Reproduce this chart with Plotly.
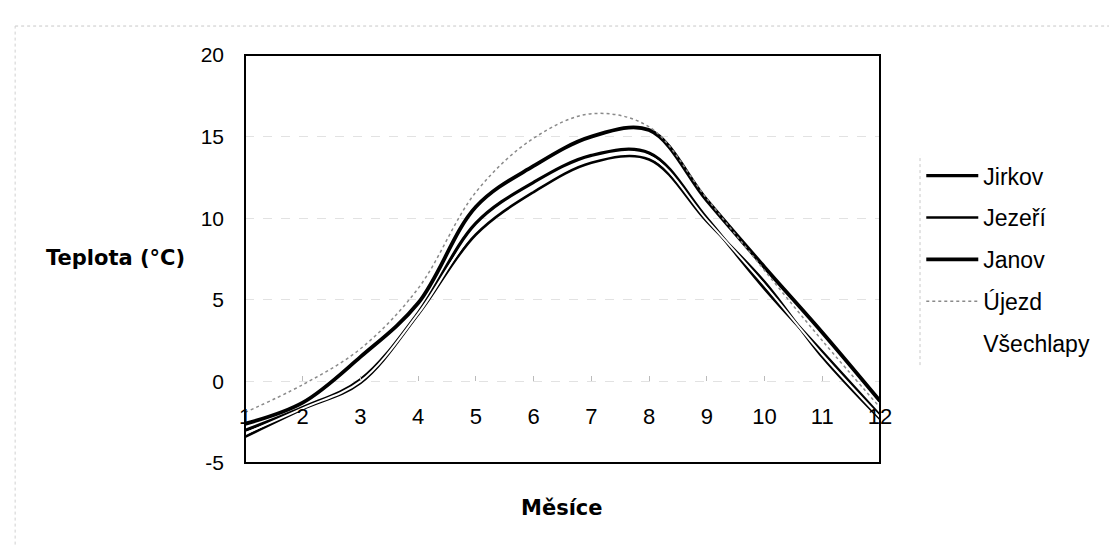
import plotly.graph_objects as go

months = [1, 2, 3, 4, 5, 6, 7, 8, 9, 10, 11, 12]
month_labels = ["1", "2", "3", "4", "5", "6", "7", "8", "9", "10", "11", "12"]
y_ticks = [-5, 0, 5, 10, 15, 20]
y_tick_labels = ["-5", "0", "5", "10", "15", "20"]

jirkov = [-3.0, -1.6, 0.1, 4.2, 9.7, 12.2, 13.85, 14.0, 10.0, 5.7, 1.8, -2.1]
jezeri = [-3.4, -1.7, -0.1, 4.1, 9.0, 11.6, 13.4, 13.6, 9.8, 6.1, 1.5, -2.3]
janov = [-2.6, -1.3, 1.5, 4.8, 10.7, 13.2, 15.0, 15.4, 11.1, 7.0, 3.0, -1.2]
ujezd = [-1.9, -0.2, 2.0, 5.7, 11.6, 14.9, 16.4, 15.6, 11.2, 6.8, 2.5, -1.6]
vsechlapy = [-3.2, -1.65, 0.0, 4.15, 9.3, 11.9, 13.6, 13.8, 9.9, 5.9, 1.65, -2.2]

series = [
    ("Jirkov", jirkov, dict(color="black", width=3.2)),
    ("Jezeří", jezeri, dict(color="black", width=2.6)),
    ("Janov", janov, dict(color="black", width=3.8)),
    ("Újezd", ujezd, dict(color="#8a8a8a", width=1.5, dash="dot")),
    ("Všechlapy", vsechlapy, dict(color="white", width=2)),
]

FONT = "Liberation Sans, Arial, sans-serif"
BOLD = "DejaVu Sans, Liberation Sans, sans-serif"

fig = go.Figure()
for i, (name, vals, line) in enumerate(series):
    fig.add_trace(go.Scatter(
        x=months, y=vals, name=name, mode="lines",
        line=dict(shape="spline", smoothing=1.0, **line),
        legendgroup=f"g{i}",
    ))

fig.update_layout(
    width=1109, height=549,
    margin=dict(l=245, r=229, t=55, b=86),
    paper_bgcolor="white", plot_bgcolor="white",
    font=dict(family=FONT, color="black"),
    showlegend=True,
    legend=dict(
        x=1.065, xanchor="left", y=0.757, yanchor="top",
        font=dict(family=FONT, size=23, color="black"),
        traceorder="grouped", tracegroupgap=9,
        bgcolor="rgba(0,0,0,0)", itemwidth=52,
    ),
    xaxis=dict(
        range=[1, 12], tickvals=months, ticktext=month_labels,
        anchor="free", position=0.2,
        showline=False, showgrid=False, zeroline=False,
        ticks="inside", ticklen=5, tickcolor="#bbbbbb",
        tickfont=dict(family=FONT, size=22, color="black"),
        ticklabelstandoff=20,
    ),
    yaxis=dict(
        range=[-5, 20], tickvals=y_ticks, ticktext=y_tick_labels,
        showline=False, zeroline=False,
        showgrid=True, gridcolor="#e2e2e2", griddash="dash", gridwidth=1,
        ticks="", tickfont=dict(family=FONT, size=21, color="black"),
        ticklabelstandoff=20,
    ),
)

# plot frame
fig.add_shape(type="rect", xref="paper", yref="paper", x0=0, x1=1, y0=0, y1=1,
              line=dict(color="black", width=2), layer="above")

# faint outer chart border (scan)
fig.add_shape(type="line", xref="paper", yref="paper", x0=-0.362, x1=1.8, y0=1.071, y1=1.071,
              line=dict(color="#c8c8c8", width=1, dash="dot"))
fig.add_shape(type="line", xref="paper", yref="paper", x0=-0.362, x1=-0.362, y0=-0.2, y1=1.071,
              line=dict(color="#d0d0d0", width=1, dash="dot"))
# faint legend border
fig.add_shape(type="line", xref="paper", yref="paper", x0=1.063, x1=1.063, y0=0.24, y1=0.755,
              line=dict(color="#c8c8c8", width=1, dash="dot"))

# axis titles
fig.add_annotation(text="<b>Teplota (°C)</b>", xref="paper", yref="paper",
                   x=(115 - 245) / 635, y=(463 - 258) / 408, showarrow=False,
                   xanchor="center", yanchor="middle",
                   font=dict(family=BOLD, size=21, color="black"))
fig.add_annotation(text="<b>Měsíce</b>", xref="paper", yref="paper",
                   x=(562 - 245) / 635, y=(463 - 508) / 408, showarrow=False,
                   xanchor="center", yanchor="middle",
                   font=dict(family=BOLD, size=21, color="black"))

fig.write_html("out.html")
